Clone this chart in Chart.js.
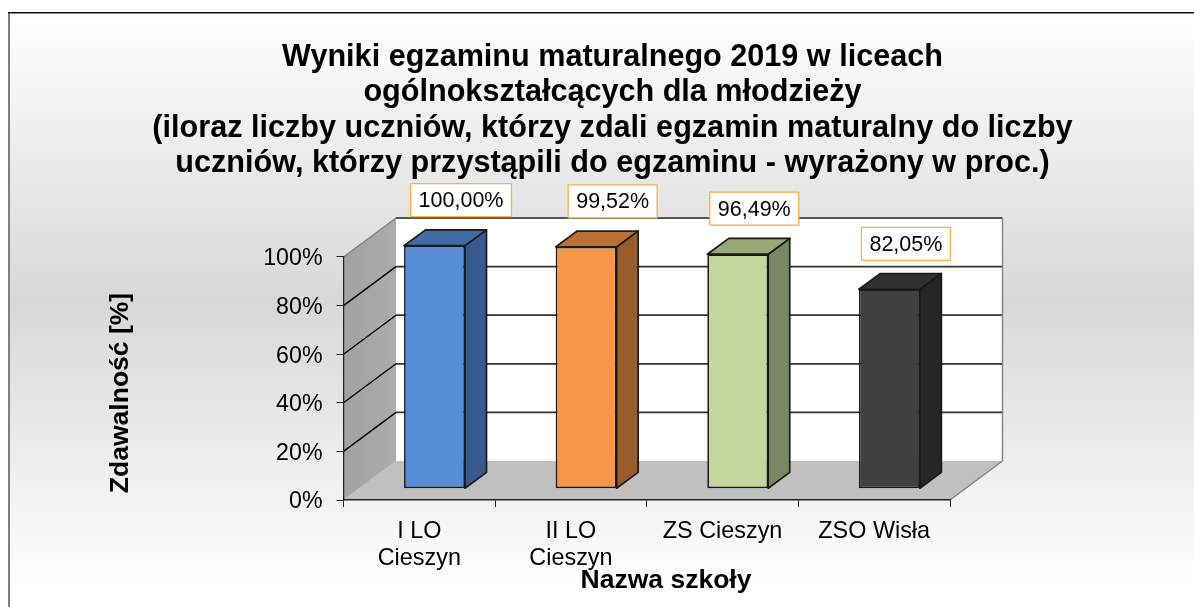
<!DOCTYPE html>
<html>
<head>
<meta charset="utf-8">
<title>Zdawalność</title>
<script src="https://cdn.jsdelivr.net/npm/chart.js@4"></script>
<style>
  html, body { margin: 0; padding: 0; background: #fff; overflow: hidden; }
  canvas { display: block; }
</style>
</head>
<body>
<canvas id="js-bar-chart" width="1194" height="607"></canvas>
<script>
// Chart data
const categories = [['I LO', 'Cieszyn'], ['II LO', 'Cieszyn'], 'ZS Cieszyn', 'ZSO Wisła'];
const passRates = [100, 99.52, 96.49, 82.05];
const yTicks = [0, 20, 40, 60, 80, 100];
const chartTitle = [
  'Wyniki egzaminu maturalnego 2019 w liceach',
  'ogólnokształcących dla młodzieży',
  '(iloraz liczby uczniów, którzy zdali egzamin maturalny do liczby',
  'uczniów, którzy przystąpili do egzaminu - wyrażony w proc.)',
];
const yTitle = 'Zdawalność [%]';
const xTitle = 'Nazwa szkoły';

// Colors per bar
const frontColors = ['#558ED5', '#F79646', '#C3D69B', '#404040'];
const topColors = ['#3F6CA3', '#B87033', '#98A877', '#303030'];
const sideColors = ['#355C8C', '#9A5B2B', '#7A8762', '#262626'];

const FONT = '"Liberation Sans", Arial, sans-serif';

// 3D look: how far the back wall and the bars sit from the front plane
const wallDepth = { x: 52.5, y: -39 };
const barOffset = { x: 15.2, y: -11.3 };
const barDepth = { x: 21.5, y: -15.8 };
const labelShiftX = [26.5, 26.5, 16.5, 16.5];

function poly(ctx, pts, fill, stroke, lw) {
  ctx.beginPath();
  pts.forEach((p, i) => (i ? ctx.lineTo(p[0], p[1]) : ctx.moveTo(p[0], p[1])));
  ctx.closePath();
  if (fill) {
    ctx.fillStyle = fill;
    ctx.fill();
  }
  if (stroke) {
    ctx.strokeStyle = stroke;
    ctx.lineWidth = lw || 1;
    ctx.lineJoin = 'round';
    ctx.stroke();
  }
}

const plot3d = {
  id: 'plot3d',
  afterLayout(chart) {
    // the title is centered on the original (wider) frame, not on the plot
    chart.titleBlock.left = 31;
    chart.titleBlock.right = 1194;
  },
  beforeDraw(chart) {
    const { ctx, chartArea: a, scales } = chart;
    const dx = wallDepth.x;
    const dy = wallDepth.y;
    const y = scales.y;

    // outer frame with gradient
    const bg = ctx.createLinearGradient(0, 12, 0, 592);
    bg.addColorStop(0, '#ffffff');
    bg.addColorStop(0.5, '#d8d8d8');
    bg.addColorStop(1, '#ffffff');
    ctx.fillStyle = '#ffffff';
    ctx.fillRect(0, 0, chart.width, chart.height);
    ctx.fillStyle = bg;
    ctx.fillRect(9, 13, chart.width, chart.height);
    ctx.fillStyle = '#7f7f7f';
    ctx.fillRect(8, 12, 2, chart.height);
    ctx.fillStyle = '#111111';
    ctx.fillRect(8, 12, chart.width, 1.5);

    // back wall
    poly(ctx, [[a.left + dx, a.top + dy], [a.right + dx, a.top + dy], [a.right + dx, a.bottom + dy], [a.left + dx, a.bottom + dy]], '#ffffff');

    // left wall
    const wallFill = ctx.createLinearGradient(a.left, 0, a.left + dx, 0);
    wallFill.addColorStop(0, '#a2a2a2');
    wallFill.addColorStop(1, '#acacac');
    poly(ctx, [[a.left, a.top], [a.left + dx, a.top + dy], [a.left + dx, a.bottom + dy], [a.left, a.bottom]], wallFill);

    // floor
    poly(ctx, [[a.left, a.bottom], [a.right, a.bottom], [a.right + dx, a.bottom + dy], [a.left + dx, a.bottom + dy]], '#c0c0c0');

    // gridlines: back wall plus the diagonal on the left wall
    yTicks.forEach((v) => {
      const py = y.getPixelForValue(v);
      if (v > 0 && v < 100) {
        ctx.strokeStyle = '#333333';
        ctx.lineWidth = 1.8;
        ctx.beginPath();
        ctx.moveTo(a.left + dx, py + dy);
        ctx.lineTo(a.right + dx, py + dy);
        ctx.stroke();
        ctx.strokeStyle = '#000000';
        ctx.lineWidth = 1.4;
        ctx.beginPath();
        ctx.moveTo(a.left, py);
        ctx.lineTo(a.left + dx, py + dy);
        ctx.stroke();
      }
    });

    // wall edges
    ctx.strokeStyle = '#555555';
    ctx.lineWidth = 1.8;
    ctx.beginPath();
    ctx.moveTo(a.left + dx, a.top + dy);
    ctx.lineTo(a.right + dx, a.top + dy);
    ctx.stroke();
    ctx.strokeStyle = '#808080';
    ctx.lineWidth = 1.4;
    ctx.beginPath();
    ctx.moveTo(a.left, a.top);
    ctx.lineTo(a.left + dx, a.top + dy);
    ctx.moveTo(a.right + dx, a.top + dy);
    ctx.lineTo(a.right + dx, a.bottom + dy);
    ctx.lineTo(a.right, a.bottom);
    ctx.stroke();
  },
  beforeDatasetDraw(chart) {
    const { ctx } = chart;
    const bars = chart.getDatasetMeta(0).data;

    // top and side faces from the bars' own geometry
    bars.forEach((bar, i) => {
      const l = bar.x - bar.width / 2 + barOffset.x;
      const r = bar.x + bar.width / 2 + barOffset.x;
      const t = bar.y + barOffset.y;
      const b = bar.base + barOffset.y;
      const ex = barDepth.x;
      const ey = barDepth.y;
      poly(ctx, [[r, t], [r + ex, t + ey], [r + ex, b + ey], [r, b]], sideColors[i], '#1a1a1a', 1.7);
      poly(ctx, [[l, t], [l + ex, t + ey], [r + ex, t + ey], [r, t]], topColors[i], '#1a1a1a', 1.7);
    });

    // front faces are the library's bars, moved onto the floor
    ctx.save();
    ctx.translate(barOffset.x, barOffset.y);
  },
  afterDatasetDraw(chart) {
    chart.ctx.restore();
  },
  afterDatasetsDraw(chart) {
    const { ctx } = chart;
    const bars = chart.getDatasetMeta(0).data;

    // value labels
    ctx.font = '21.5px ' + FONT;
    ctx.textAlign = 'center';
    ctx.textBaseline = 'middle';
    bars.forEach((bar, i) => {
      const text = passRates[i].toFixed(2).replace('.', ',') + '%';
      const w = ctx.measureText(text).width + 16;
      const h = 33;
      const cx = bar.x + barOffset.x + labelShiftX[i];
      const bottom = bar.y + barOffset.y - 29;
      ctx.fillStyle = '#ffffff';
      ctx.fillRect(cx - w / 2, bottom - h, w, h);
      ctx.strokeStyle = '#FBB040';
      ctx.lineWidth = 1.3;
      ctx.strokeRect(cx - w / 2, bottom - h, w, h);
      ctx.fillStyle = '#000000';
      ctx.fillText(text, cx, bottom - h / 2 + 1);
    });

    // axis titles sit off-center in the original
    ctx.fillStyle = '#000000';
    ctx.font = 'bold 26.5px ' + FONT;
    ctx.fillText(xTitle, 666, 581);
    ctx.save();
    ctx.translate(120.5, 393);
    ctx.rotate(-Math.PI / 2);
    ctx.fillText(yTitle, 0, 0);
    ctx.restore();
  },
};

const barChartContext = document.getElementById('js-bar-chart').getContext('2d');

const newBarChart = new Chart(barChartContext, {
  type: 'bar',
  data: {
    labels: categories,
    datasets: [
      {
        label: 'Zdawalność',
        data: passRates,
        backgroundColor: frontColors,
        borderColor: '#1a1a1a',
        borderWidth: 1.7,
        borderSkipped: false,
        categoryPercentage: 1,
        barPercentage: 0.402,
      },
    ],
  },
  plugins: [plot3d],
  options: {
    responsive: false,
    animation: false,
    layout: { padding: { left: 0, right: 244, top: 0, bottom: 0 } },
    plugins: {
      legend: { display: false },
      tooltip: { enabled: false },
      title: {
        display: true,
        text: chartTitle,
        color: '#000000',
        font: { family: FONT, size: 30.6, weight: 'bold', lineHeight: 1.16 },
        padding: { top: 39.5, bottom: 75.5 },
      },
    },
    scales: {
      x: {
        afterFit(scale) {
          scale.height = 107;
        },
        grid: { drawOnChartArea: false, drawTicks: true, tickLength: 7, color: '#222222', lineWidth: 1, offset: true },
        border: { display: true, color: '#222222', width: 1.5 },
        ticks: {
          color: '#000000',
          font: { family: FONT, size: 23.4, lineHeight: 1.15 },
          padding: 11,
          maxRotation: 0,
          autoSkip: false,
        },
      },
      y: {
        min: 0,
        max: 100,
        afterFit(scale) {
          scale.width = 343.5;
        },
        afterBuildTicks(scale) {
          scale.ticks = yTicks.map((value) => ({ value }));
        },
        grid: { drawOnChartArea: false, drawTicks: true, tickLength: 7, color: '#222222', lineWidth: 1 },
        border: { display: true, color: '#222222', width: 1.2 },
        ticks: {
          color: '#000000',
          font: { family: FONT, size: 23.2 },
          padding: 14,
          labelOffset: 2,
          callback: (value) => value + '%',
        },
      },
    },
  },
});
</script>
</body>
</html>
